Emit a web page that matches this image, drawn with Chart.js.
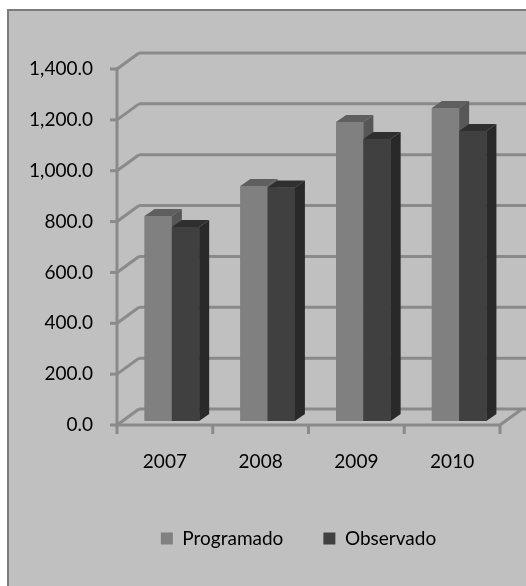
<!DOCTYPE html>
<html>
<head>
<meta charset="utf-8">
<script src="https://cdn.jsdelivr.net/npm/chart.js@4.4.0/dist/chart.umd.min.js"></script>
<style>
  html, body { margin: 0; padding: 0; background: #fff; overflow: hidden; }
  canvas { display: block; }
</style>
</head>
<body>
<canvas id="chart" width="526" height="586"></canvas>
<script>
  const years = ['2007', '2008', '2009', '2010'];
  const programado = [806, 924, 1176, 1231];
  const observado = [763, 918, 1109, 1140];
  const yTicks = [0, 200, 400, 600, 800, 1000, 1200, 1400];

  // oblique 3d look: offsets from the plane the bars stand on
  const FRONT = { dx: -7, dy: 4 };
  const BACK = { dx: 15, dy: -12 };
  const DEPTH = { dx: 10, dy: -7 };
  const GRID = '#8a8a8a';

  const faces = [
    { front: '#808080', top: '#5f5f5f', side: '#575757' },
    { front: '#404040', top: '#2f2f2f', side: '#292929' },
  ];

  const line = (ctx, x1, y1, x2, y2) => {
    ctx.beginPath();
    ctx.moveTo(x1, y1);
    ctx.lineTo(x2, y2);
    ctx.stroke();
  };

  const poly = (ctx, pts, color) => {
    ctx.fillStyle = color;
    ctx.beginPath();
    pts.forEach(([px, py], i) => i ? ctx.lineTo(px, py) : ctx.moveTo(px, py));
    ctx.closePath();
    ctx.fill();
  };

  const box3d = {
    id: 'box3d',
    beforeDraw(chart) {
      const { ctx, width, height } = chart;
      ctx.save();
      ctx.fillStyle = '#ffffff';
      ctx.fillRect(0, 0, width, height);
      ctx.fillStyle = '#c0c0c0';
      ctx.fillRect(8, 10, width, height);
      ctx.strokeStyle = '#7c7c7c';
      ctx.lineWidth = 2;
      ctx.beginPath();
      ctx.moveTo(8, height);
      ctx.lineTo(8, 10);
      ctx.lineTo(width, 10);
      ctx.stroke();
      ctx.restore();

      // move the legend a bit right, the panel runs on past the right edge
      const lg = chart.legend;
      if (lg && !lg._shifted) {
        lg.left += 33;
        lg.right += 33;
        lg._shifted = true;
      }
    },
    afterLayout(chart) {
      if (chart.legend) chart.legend._shifted = false;
    },
    beforeDatasetsDraw(chart) {
      const { ctx, chartArea: a, scales: { x, y } } = chart;
      const fl = a.left + FRONT.dx;
      const fr = a.right + FRONT.dx;
      const y0 = y.getPixelForValue(0);
      ctx.save();
      ctx.strokeStyle = GRID;
      ctx.lineWidth = 3;
      ctx.lineCap = 'butt';
      yTicks.forEach(v => {
        const py = y.getPixelForValue(v);
        line(ctx, a.left + BACK.dx, py + BACK.dy, chart.width, py + BACK.dy);
        line(ctx, fl, py + FRONT.dy, a.left + BACK.dx, py + BACK.dy);
        line(ctx, fl - 7, py + FRONT.dy, fl, py + FRONT.dy);
      });
      line(ctx, fl, y.getPixelForValue(1400) + FRONT.dy - 1.5, fl, y0 + FRONT.dy + 1.5);
      // floor
      line(ctx, fl, y0 + FRONT.dy, fr, y0 + FRONT.dy);
      line(ctx, fr, y0 + FRONT.dy, a.right + BACK.dx, y0 + BACK.dy);
      const step = a.width / years.length;
      for (let i = 0; i <= years.length; i++) {
        line(ctx, fl + i * step, y0 + FRONT.dy, fl + i * step, y0 + FRONT.dy + 9);
      }
      ctx.restore();
    },
    afterDatasetsDraw(chart) {
      const { ctx } = chart;
      const metas = chart.data.datasets.map((d, i) => chart.getDatasetMeta(i));
      ctx.save();
      years.forEach((yr, i) => {
        metas.forEach((meta, d) => {
          const bar = meta.data[i];
          if (!bar) return;
          const { x, y, base, width } = bar.getProps(['x', 'y', 'base', 'width'], true);
          const l = x - width / 2, r = x + width / 2;
          const c = faces[d];
          poly(ctx, [[l, y], [r, y], [r, base], [l, base]], c.front);
          poly(ctx, [[l, y], [r, y], [r + DEPTH.dx, y + DEPTH.dy], [l + DEPTH.dx, y + DEPTH.dy]], c.top);
          poly(ctx, [[r, y], [r + DEPTH.dx, y + DEPTH.dy], [r + DEPTH.dx, base + DEPTH.dy], [r, base]], c.side);
        });
      });
      ctx.restore();
    },
  };

  const font = { family: 'Lato', size: 19 };

  new Chart(document.getElementById('chart'), {
    type: 'bar',
    data: {
      labels: years,
      datasets: [
        { label: 'Programado', data: programado, backgroundColor: faces[0].front, borderWidth: 0 },
        { label: 'Observado', data: observado, backgroundColor: faces[1].front, borderWidth: 0 },
      ],
    },
    options: {
      responsive: false,
      animation: false,
      devicePixelRatio: 1,
      layout: { padding: { left: 24, right: 19, top: 65, bottom: 28 } },
      categoryPercentage: 0.57,
      barPercentage: 1,
      scales: {
        x: {
          grid: { display: false, drawTicks: false },
          border: { display: false },
          ticks: { font, color: '#000', padding: 29, labelOffset: -7, maxRotation: 0 },
          afterFit: s => { s.height = 68; },
        },
        y: {
          min: 0,
          max: 1400,
          grid: { display: false, drawTicks: false },
          border: { display: false },
          ticks: {
            stepSize: 200,
            font,
            color: '#000',
            padding: 31,
            labelOffset: 4,
            callback: v => v.toLocaleString('en-US', { minimumFractionDigits: 1, maximumFractionDigits: 1 }),
          },
          afterFit: s => { s.width = 100; },
        },
      },
      plugins: {
        legend: {
          position: 'bottom',
          labels: { font, color: '#000', boxWidth: 12, boxHeight: 12, padding: 40 },
        },
        tooltip: { enabled: false },
      },
    },
    plugins: [box3d],
  });
</script>
</body>
</html>
